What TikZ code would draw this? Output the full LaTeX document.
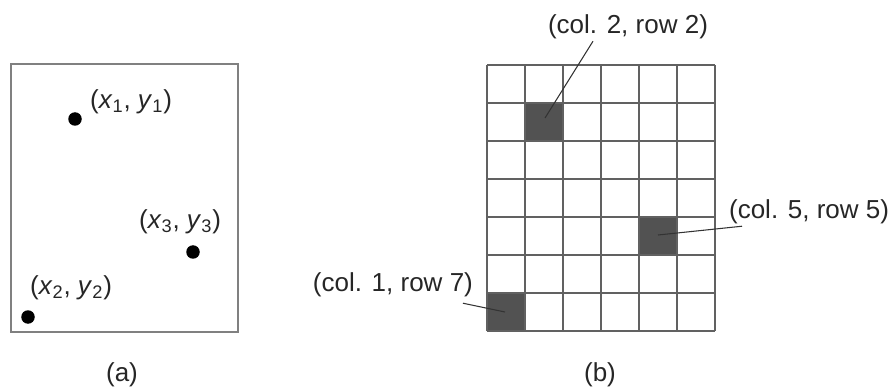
\documentclass[tikz,border=0pt]{standalone}
\usepackage{fontspec}
\setmainfont{Liberation Sans}
\begin{document}
\begin{tikzpicture}[x=1cm,y=1cm,font=\fontsize{14.8}{17.8}\selectfont,line cap=butt,line join=miter]
\colorlet{framec}{black!50}
\colorlet{gridc}{black!62}
\colorlet{cellc}{black!68}
\colorlet{txtc}{black!85}

\tikzset{
frame/.style={draw=framec, line width=1.2pt},
dotnode/.style={circle, fill=black, inner sep=0pt, minimum size=0.27cm},
ptlabel/.style={anchor=west, text=txtc, inner sep=1pt},
celllabel/.style={text=txtc, inner sep=1pt},
cellfill/.style={fill=cellc, draw=black!75, line width=0.9pt},
leader/.style={draw=black!80, line width=0.6pt},
caption/.style={text=txtc}
}

\useasboundingbox (0,0) rectangle (17.86,7.76);

% (a) points in the plane
\draw[frame] (0.22,1.12) rectangle (4.76,6.48);
\node[dotnode] (p1) at (1.50,5.38) {};
\node[dotnode] (p3) at (3.86,2.72) {};
\node[dotnode] (p2) at (0.56,1.42) {};
\node[ptlabel] (la1) at (1.76,5.72) {(\textit{x}\textsubscript{1}, \textit{y}\textsubscript{1})};
\node[ptlabel] (la3) at (2.74,3.32) {(\textit{x}\textsubscript{3}, \textit{y}\textsubscript{3})};
\node[ptlabel] (la2) at (0.56,2.00) {(\textit{x}\textsubscript{2}, \textit{y}\textsubscript{2})};
\node[caption] (capa) at (2.44,0.27) {(a)};

% (b) raster grid, 6 columns x 7 rows
\fill[cellc] (10.50,5.70) rectangle (11.26,4.94);
\fill[cellc] (12.78,3.42) rectangle (13.54,2.66);
\fill[cellc] (9.74,1.90) rectangle (10.50,1.14);
\foreach \i in {0,...,6}
  \draw[gridc, line width=0.9pt] (9.74+0.76*\i,1.14) -- (9.74+0.76*\i,6.46);
\foreach \j in {0,...,7}
  \draw[gridc, line width=0.9pt] (9.74,1.14+0.76*\j) -- (14.30,1.14+0.76*\j);

\coordinate (c22) at (10.90,5.40);
\coordinate (c55) at (13.16,3.06);
\coordinate (c17) at (10.10,1.52);
\node[celllabel] (lab22) at (12.56,7.22) {(col. 2, row 2)};
\node[celllabel, anchor=west] (lab55) at (14.54,3.52) {(col. 5, row 5)};
\node[celllabel, anchor=east] (lab17) at (9.50,2.06) {(col. 1, row 7)};

\draw[leader] ([xshift=-0.70cm]lab22.south) -- (c22);
\draw[leader] ([xshift=0.30cm]lab55.south west) -- (c55);
\draw[leader] ([xshift=-0.24cm,yshift=-0.08cm]lab17.south east) -- (c17);

\node[caption] (capb) at (12.00,0.27) {(b)};
\end{tikzpicture}
\end{document}
